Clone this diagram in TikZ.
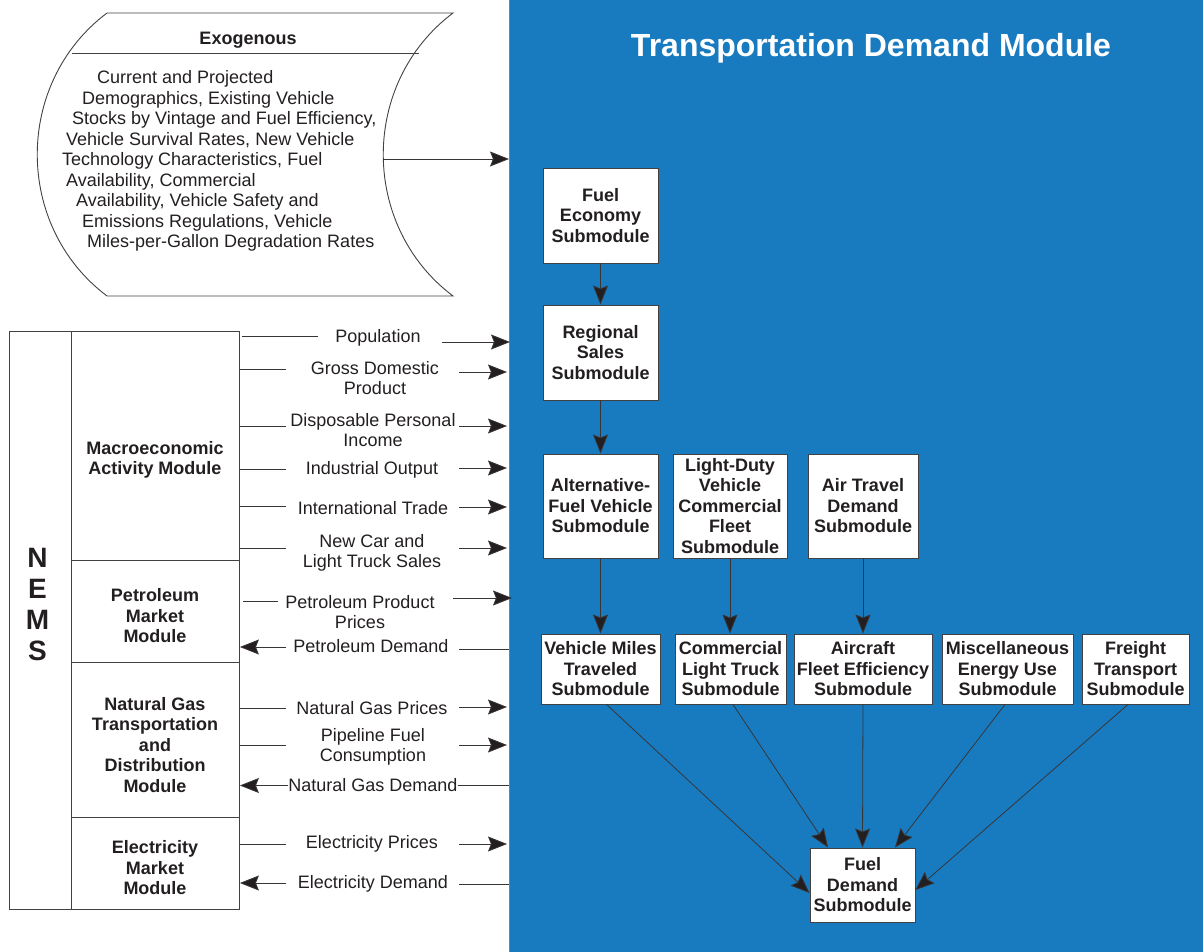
\documentclass[tikz,border=0pt]{standalone}
\usepackage{fontspec}
\setmainfont{Liberation Sans}
\usetikzlibrary{arrows.meta}
\definecolor{tdmblue}{RGB}{24,123,192}
\definecolor{ink}{RGB}{35,31,32}
\begin{document}
\begin{tikzpicture}[x=1pt,y=-1pt,
  every node/.style={font=\fontsize{18}{20.5}\selectfont, text=ink, inner sep=0pt},
  lbl/.style={align=center},
  modbox/.style={draw=ink!85, line width=0.9pt, anchor=north west, minimum width=168},
  modtxt/.style={align=center, font=\bfseries\fontsize{18}{20.5}\selectfont},
  subbox/.style={draw=ink!85, fill=white, line width=0.9pt, align=center, font=\bfseries\fontsize{18}{20.5}\selectfont},
  ln/.style={draw=ink!90, line width=0.8pt},
  arr/.style={ln, -{Stealth[length=19pt,width=15pt,inset=3pt,fill=ink]}},
]
\useasboundingbox (0,0) rectangle (1203,952);

% Transportation Demand Module background
\node[fill=tdmblue, draw=gray, line width=0.8pt, anchor=north west, minimum width=700, minimum height=960] (tdm) at (509,-4) {};
\node[text=white, font=\bfseries\fontsize{32}{36}\selectfont] (title) at (871,48.5) {Transportation Demand Module};

% Exogenous shape
\draw[ink!85, line width=0.9pt] (107,13) -- (453,13) .. controls (360,83) and (360,226) .. (453,296)
  -- (107,296) .. controls (14,226) and (14,83) .. (107,13);
\draw[ink!85, line width=0.9pt] (72,53) -- (419,53);
\node[font=\bfseries\fontsize{18}{20.5}\selectfont] (exo) at (248,40) {Exogenous};
\node[anchor=west] (ex1) at (97,79) {Current and Projected};
\node[anchor=west] (ex2) at (82,99.5) {Demographics, Existing Vehicle};
\node[anchor=west] (ex3) at (72,120) {Stocks by Vintage and Fuel Efficiency,};
\node[anchor=west] (ex4) at (66,140.5) {Vehicle Survival Rates, New Vehicle};
\node[anchor=west] (ex5) at (62,161) {Technology Characteristics, Fuel};
\node[anchor=west] (ex6) at (66,181.5) {Availability, Commercial};
\node[anchor=west] (ex7) at (76,202) {Availability, Vehicle Safety and};
\node[anchor=west] (ex8) at (82,222.5) {Emissions Regulations, Vehicle};
\node[anchor=west] (ex9) at (87,243) {Miles-per-Gallon Degradation Rates};
\coordinate (exoout) at (383,159);
\draw[arr] (exoout) -- (tdm.west |- exoout);

% NEMS block
\node[draw=ink!85, line width=0.9pt, anchor=north west, minimum width=62, minimum height=578] (nems) at (9,331) {};
\node[align=center, font=\bfseries\fontsize{28}{31}\selectfont] (nemstxt) at (37.5,605) {N\\E\\M\\S};
\node[modbox, minimum height=229] (mac) at (71,331) {};
\node[modbox, minimum height=102] (pet) at (71,560) {};
\node[modbox, minimum height=155] (ng) at (71,662) {};
\node[modbox, minimum height=92] (ele) at (71,817) {};
\node[modtxt] (mact) at (155,460) {Macroeconomic\\Activity Module};
\node[modtxt] (pett) at (155,616) {Petroleum\\Market\\Module};
\node[modtxt] (ngt) at (155,745) {Natural Gas\\Transportation\\and\\Distribution\\Module};
\node[modtxt] (elet) at (155,868) {Electricity\\Market\\Module};

% flow labels
\node[lbl] (pop) at (378,338) {Population};
\node[lbl] (gdp) at (375,378) {Gross Domestic\\Product};
\node[lbl] (dpi) at (373,430) {Disposable Personal\\Income};
\node[lbl] (ind) at (372,469.5) {Industrial Output};
\node[lbl] (itr) at (373,508.5) {International Trade};
\node[lbl] (ncs) at (372,553) {New Car and\\Light Truck Sales};
\node[lbl] (ppp) at (360,612) {Petroleum Product\\Prices};
\node[lbl] (pdm) at (371,646.5) {Petroleum Demand};
\node[lbl] (ngp) at (372,708.5) {Natural Gas Prices};
\node[lbl] (pfc) at (373,747) {Pipeline Fuel\\Consumption};
\node[lbl] (ngd) at (373,785.5) {Natural Gas Demand};
\node[lbl] (elp) at (372,843.5) {Electricity Prices};
\node[lbl] (eld) at (373,883.5) {Electricity Demand};

% flow connectors
\draw[ln] (242,336) -- (318,336);  \draw[arr] (442,342) -- (510,342);
\draw[ln] (mac.east |- 0,369) -- (286,369); \draw[arr] (459,372) -- (507,372);
\draw[ln] (mac.east |- 0,426) -- (286,426); \draw[arr] (459,426) -- (507,426);
\draw[ln] (mac.east |- 0,469) -- (286,469); \draw[arr] (459,468) -- (507,468);
\draw[ln] (mac.east |- 0,506) -- (286,506); \draw[arr] (459,507) -- (507,507);
\draw[ln] (mac.east |- 0,548) -- (286,548); \draw[arr] (459,548) -- (507,548);
\draw[ln] (243,601) -- (278,601); \draw[arr] (453,598) -- (512,598);
\draw[arr] (286,647) -- (pet.east |- 0,647); \draw[ln] (459,649) -- (tdm.west |- 0,649);
\draw[ln] (ng.east |- 0,708) -- (286,708); \draw[arr] (459,707) -- (507,707);
\draw[ln] (ng.east |- 0,745) -- (286,745); \draw[arr] (459,745) -- (507,745);
\draw[arr] (ngd.west) -- (ng.east |- ngd.west); \draw[ln] (ngd.east) -- (tdm.west |- ngd.east);
\draw[ln] (ele.east |- 0,844) -- (286,844); \draw[arr] (459,844) -- (507,844);
\draw[arr] (286,883) -- (ele.east |- 0,883); \draw[ln] (459,884) -- (tdm.west |- 0,884);

% submodules
\node[subbox, minimum width=115, minimum height=95] (fe) at (600.5,215.5) {Fuel\\Economy\\Submodule};
\node[subbox, minimum width=115, minimum height=95] (rs) at (600.5,352.5) {Regional\\Sales\\Submodule};
\node[subbox, minimum width=115, minimum height=104] (afv) at (600.5,506) {Alternative-\\Fuel Vehicle\\Submodule};
\node[subbox, minimum width=114, minimum height=104] (ldv) at (730,506) {Light-Duty\\Vehicle\\Commercial\\Fleet\\Submodule};
\node[subbox, minimum width=110, minimum height=104] (air) at (863,506) {Air Travel\\Demand\\Submodule};
\node[subbox, minimum width=119, minimum height=70] (vmt) at (600.5,669) {Vehicle Miles\\Traveled\\Submodule};
\node[subbox, minimum width=111, minimum height=70] (clt) at (730.5,669) {Commercial\\Light Truck\\Submodule};
\node[subbox, minimum width=138, minimum height=70] (acf) at (863,669) {Aircraft\\Fleet Efficiency\\Submodule};
\node[subbox, minimum width=131, minimum height=70] (misc) at (1007.5,669) {Miscellaneous\\Energy Use\\Submodule};
\node[subbox, minimum width=107, minimum height=70] (frt) at (1135.5,669) {Freight\\Transport\\Submodule};
\node[subbox, minimum width=105, minimum height=74] (fd) at (862.5,885) {Fuel\\Demand\\Submodule};

\draw[arr] (fe.south) -- (rs.north);
\draw[arr] (rs.south) -- (afv.north);
\draw[arr] (afv.south) -- (vmt.north);
\draw[arr] (ldv.south) -- (ldv.south |- clt.north);
\draw[arr] (air.south) -- (acf.north);
\draw[arr] ([xshift=6pt]vmt.south) -- ([yshift=-8pt]fd.west);
\draw[arr] ([xshift=2.5pt]clt.south) -- ([xshift=-34.5pt]fd.north);
\draw[arr] (acf.south) -- (fd.north);
\draw[arr] ([xshift=-2.5pt]misc.south) -- ([xshift=32.5pt]fd.north);
\draw[arr] ([xshift=-7.5pt]frt.south) -- ([yshift=-5pt]fd.east);
\end{tikzpicture}
\end{document}
